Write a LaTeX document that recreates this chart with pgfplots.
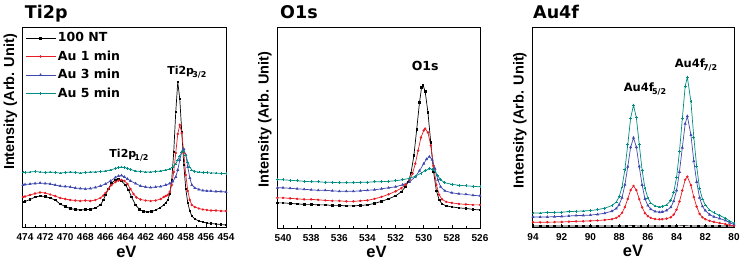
\documentclass[border=0pt]{standalone}
\usepackage{fontspec}
\setmainfont{Liberation Sans}
\newfontfamily\widefont{DejaVu Sans}
\usepackage{pgfplots}
\pgfplotsset{compat=1.18}
\definecolor{cblack}{RGB}{0,0,0}
\definecolor{cred}{RGB}{232,28,36}
\definecolor{cblue}{RGB}{63,72,173}
\definecolor{cteal}{RGB}{0,140,128}
\newcommand{\sub}[1]{\kern-1.8pt\raisebox{-0.55ex}{\fontsize{8}{8}\selectfont #1}}
\newcommand{\titfont}{\widefont\fontsize{17.5}{17.5}\selectfont\bfseries}
\pgfplotsset{
  xps/.style={
    scale only axis, ymin=0, ymax=200, ytick=\empty, x dir=reverse,
    axis line style={line width=0.6pt},
    xtick pos=left, minor x tick num=1,
    major tick length=3pt, minor tick length=2pt,
    every tick/.style={black, line width=0.5pt},
    /pgf/number format/assume math mode=true,
    /pgf/number format/set thousands separator={},
    xticklabel style={font=\fontsize{10}{10}\selectfont\bfseries, inner sep=0pt, yshift=-6pt},
    xlabel={eV},
    xlabel style={font=\fontsize{16.5}{16.5}\selectfont\bfseries, anchor=north, inner sep=0pt},
    ylabel={Intensity (Arb. Unit)},
    ylabel style={font=\fontsize{14.5}{15}\selectfont\bfseries, anchor=south, inner sep=0pt},
    clip=true,
  },
  sblack/.style={color=cblack, line width=0.7pt, mark=square*, mark size=0.8pt},
  sred/.style={color=cred, line width=0.7pt, mark=*, mark size=0.85pt},
  sblue/.style={color=cblue, line width=0.7pt, mark=triangle*, mark size=1.1pt},
  steal/.style={color=cteal, line width=0.7pt, mark=+, mark size=1.4pt},
}
\begin{document}
\begin{tikzpicture}
\useasboundingbox (0pt,0pt) rectangle (742pt,260pt);
% ---------------- Ti2p ----------------
\begin{axis}[xps, name=a1, at={(22.7pt,33pt)}, anchor=south west, width=203.3pt, height=200pt,
  xmin=454, xmax=474.23, xtick={454,456,...,474},
  xlabel style={at={(axis description cs:0.51,0)}, yshift=-18.7pt},
  ylabel style={at={(axis description cs:-0.026,0.625)}},
  legend style={at={(axis description cs:0,1)}, anchor=north west, xshift=1.3pt, yshift=-2.5pt,
    draw=none, fill=none, font=\widefont\fontsize{12.5}{13}\selectfont\bfseries,
    row sep=3.5pt, inner sep=1pt, nodes={inner sep=2pt}},
  legend cell align=left,
  legend image code/.code={\draw[mark repeat=2,mark phase=2] plot coordinates {(0pt,0pt) (15pt,0pt) (30pt,0pt)};},
]
\addplot[sblack] coordinates {
(474.2,25) (474,25.5) (473.5,27.5) (473,30) (472.5,31) (472,30.5) (471.5,29) (471,27)
(470.5,23) (470,20.5) (469.5,18.5) (469,17.5) (468.5,17) (468,17.5) (467.5,17.5) (467,19)
(466.5,22) (466.2,27) (466,32) (465.7,38) (465.4,44) (465,47) (464.7,48) (464.4,46)
(464,42) (463.7,37) (463.4,30) (463,22) (462.6,17.5) (462.2,15.5) (461.8,15) (461.4,15.5)
(461,17) (460.6,19) (460.2,22) (460,24) (459.8,27) (459.6,33) (459.4,47) (459.2,75)
(459,115) (458.8,145) (458.6,128) (458.4,95) (458.2,62) (458,38) (457.8,24) (457.6,16)
(457.4,11) (457.1,8) (456.7,6) (456.3,5) (455.9,4) (455.5,3.5) (455,3) (454.5,2.5) (454,2)};
\addlegendentry{100 NT}
\addplot[sred] coordinates {
(474.2,30) (474,30.5) (473.5,32) (473,33.5) (472.5,34.5) (472,34) (471.5,32.5) (471,31)
(470.5,29) (470,28) (469.5,27) (469,26.5) (468.5,26) (468,26.5) (467.5,26) (467,27)
(466.5,29) (466.2,31.5) (466,34) (465.7,38) (465.4,42) (465,45) (464.7,46.5) (464.4,47)
(464.1,46) (463.8,43) (463.5,38) (463.2,33) (462.9,29.5) (462.5,27.5) (462,26.5) (461.5,26)
(461,26.5) (460.5,28) (460.2,30) (460,31) (459.8,32) (459.6,35) (459.4,42) (459.2,55)
(459,74) (458.8,93) (458.6,102) (458.4,94) (458.2,74) (458,52) (457.8,36) (457.6,27)
(457.4,22) (457.1,20) (456.7,18.5) (456.3,17.5) (455.9,17) (455.5,16.5) (455,16.5) (454.5,16) (454,16)};
\addlegendentry{Au 1 min}
\addplot[sblue] coordinates {
(474.2,42) (474,42.5) (473.5,43) (473,43.5) (472.5,44) (472,43.5) (471.5,43) (471,42)
(470.5,41) (470,40.5) (469.5,40) (469,39) (468.5,38.5) (468,38) (467.5,38.5) (467,39.5)
(466.5,41) (466,43) (465.5,46) (465,49.5) (464.7,51) (464.4,51.5) (464.1,50) (463.8,48)
(463.5,46) (463,43.5) (462.5,41) (462,40) (461.5,39.5) (461,40) (460.5,40.5) (460,42)
(459.6,43.5) (459.3,45.5) (459,50) (458.8,57) (458.6,67) (458.4,75) (458.2,78) (458,72)
(457.8,60) (457.6,49) (457.4,42) (457.1,39) (456.7,37.5) (456.3,36.5) (455.9,36) (455.5,36)
(455,35.5) (454.5,35.5) (454,35)};
\addlegendentry{Au 3 min}
\addplot[steal] coordinates {
(474.2,55) (474,54.5) (473.5,55) (473,55.5) (472.5,55) (472,54.5) (471.5,55) (471,54.5)
(470.5,54) (470,54.5) (469.5,55) (469,54.5) (468.5,54) (468,54.5) (467.5,55) (467,55)
(466.5,55.5) (466,56) (465.5,57) (465,58.5) (464.7,59.5) (464.4,60) (464.1,59.5) (463.8,58.5)
(463.5,57.5) (463,56) (462.5,55.5) (462,55) (461.5,55) (461,55.5) (460.5,56) (460,57)
(459.6,58) (459.3,60) (459,63) (458.8,67) (458.6,71) (458.4,75) (458.2,76) (458,72)
(457.8,65) (457.6,60) (457.4,57) (457.1,55.5) (456.7,55) (456.3,54.5) (455.9,54.5) (455.5,54)
(455,54) (454.5,53.5) (454,53.5)};
\addlegendentry{Au 5 min}
\node[font=\widefont\fontsize{11}{11}\selectfont\bfseries] at (axis cs:457.9,155) {Ti2p\sub{3/2}};
\node[font=\widefont\fontsize{11}{11}\selectfont\bfseries] at (axis cs:463.65,72) {Ti2p\sub{1/2}};
\end{axis}
% ---------------- O1s ----------------
\begin{axis}[xps, name=a2, at={(277pt,32pt)}, anchor=south west, width=203pt, height=201pt,
  xmin=526, xmax=540.43, xtick={526,528,...,540},
  xlabel style={at={(axis description cs:0.49,0)}, yshift=-17.5pt},
  ylabel style={at={(axis description cs:-0.026,0.54)}},
]
\addplot[sblack] coordinates {
(540.4,25) (540,25) (539.5,24.5) (539,24) (538.5,23.5) (538,23.5) (537.5,23) (537,23)
(536.5,22.5) (536,22.5) (535.5,22) (535,22) (534.5,22.5) (534,23) (533.5,24.5) (533,26.5)
(532.5,29) (532,32) (531.6,36) (531.3,41) (531.1,46) (530.9,55) (530.7,72) (530.5,98)
(530.3,125) (530.15,140) (530.05,142) (529.9,136) (529.7,115) (529.5,85) (529.3,56) (529.1,37) (528.9,28)
(528.7,24) (528.4,22) (528,21) (527.5,20) (527,19.5) (526.5,18.5) (526,18)};
\addplot[sred] coordinates {
(540.4,30) (540,30) (539.5,29.5) (539,29) (538.5,28.5) (538,28.5) (537.5,28) (537,27.5)
(536.5,27) (536,27) (535.5,26.5) (535,26.5) (534.5,27) (534,27.5) (533.5,29) (533,31)
(532.5,33.5) (532,36.5) (531.6,39.5) (531.3,43) (531,48) (530.8,54) (530.6,64) (530.4,77)
(530.2,90) (530,97) (529.9,99) (529.7,95) (529.5,82) (529.3,62) (529.1,43) (528.9,33)
(528.7,28.5) (528.4,26) (528,25) (527.5,24) (527,23.5) (526.5,23) (526,23)};
\addplot[sblue] coordinates {
(540.4,40) (540,40) (539.5,39.5) (539,39) (538.5,38.5) (538,38) (537.5,37.5) (537,37.5)
(536.5,37) (536,36.5) (535.5,36.5) (535,36.5) (534.5,37) (534,37.5) (533.5,38) (533,39)
(532.5,40) (532,41) (531.5,43) (531,46) (530.6,51) (530.3,57) (530,64) (529.8,68.5)
(529.6,71) (529.4,68) (529.2,59) (529,48) (528.8,41) (528.5,37) (528,35) (527.5,34)
(527,33.5) (526.5,32.5) (526,32)};
\addplot[steal] coordinates {
(540.4,48) (540,48) (539.5,47.5) (539,47) (538.5,46.5) (538,46) (537.5,46) (537,45.5)
(536.5,45.5) (536,45) (535.5,45) (535,45) (534.5,45.5) (534,45.5) (533.5,46) (533,46)
(532.5,46.5) (532,47) (531.5,48) (531,49.5) (530.6,51.5) (530.2,54.5) (529.9,57) (529.6,59)
(529.4,58.5) (529.2,56) (529,52) (528.8,48) (528.5,45) (528,43.5) (527.5,42.5) (527,42)
(526.5,41.5) (526,41)};
\node[font=\widefont\fontsize{12.5}{12.5}\selectfont\bfseries] at (axis cs:529.9,161) {O1s};
\end{axis}
% ---------------- Au4f ----------------
\begin{axis}[xps, name=a3, at={(532pt,32.5pt)}, anchor=south west, width=202pt, height=200.5pt,
  xmin=80, xmax=94.07, xtick={80,82,...,94},
  xlabel style={at={(axis description cs:0.5,0)}, yshift=-17pt},
  ylabel style={at={(axis description cs:-0.026,0.535)}},
]
\addplot[sblack] coordinates {
(94,1.5) (93.5,1.6) (93,1.5) (92.5,1.4) (92,1.5) (91.5,1.6) (91,1.5) (90.5,1.5) (90,1.4)
(89.5,1.5) (89,1.6) (88.5,1.5) (88,1.5) (87.5,1.6) (87,1.7) (86.5,1.5) (86,1.5) (85.5,1.4)
(85,1.5) (84.5,1.5) (84,1.6) (83.5,1.7) (83,1.6) (82.5,1.5) (82,1.5) (81.5,1.4) (81,1.5)
(80.5,1.5) (80,1.4)};
\addplot[sred] coordinates {
(94,5.2) (93.5,5.2) (93,5.3) (92.5,5.4) (92,5.5) (91.5,5.8) (91,6.1) (90.5,6.3) (90,6.6)
(89.5,7) (89,7.5) (88.5,8.3) (88.2,9.6) (88,11.3) (87.8,14.6) (87.6,20.3) (87.4,28.5)
(87.2,37.3) (87,41.5) (86.8,37.3) (86.6,28.3) (86.4,20) (86.2,14.3) (86,11.3) (85.8,9.6)
(85.5,8.4) (85.2,8.2) (85,8.3) (84.7,8.8) (84.4,10.2) (84.2,12.8) (84,17.7) (83.8,25.9)
(83.6,36.9) (83.4,47.7) (83.25,50.7) (83,42.2) (82.8,30.3) (82.6,20.8) (82.4,13.6)
(82.2,10.2) (82,8.3) (81.7,6.7) (81.4,5.6) (81,4.4) (80.6,3.4) (80.3,2.3) (80,1.7)};
\addplot[sblue] coordinates {
(94,10.4) (93.5,10.4) (93,10.5) (92.5,10.8) (92,11.1) (91.5,11.5) (91,11.9) (90.5,12.1)
(90,12.4) (89.5,13.1) (89,14.3) (88.5,16.3) (88.2,18.9) (88,22.7) (87.8,29.8) (87.6,42.6)
(87.4,60.6) (87.2,80) (87,89.5) (86.8,80.2) (86.6,60.8) (86.4,42.5) (86.2,28.5) (86,22)
(85.8,18.3) (85.5,16) (85.2,15.3) (85,15.6) (84.7,17) (84.4,20.2) (84.2,26.2) (84,37)
(83.8,55.5) (83.6,79.7) (83.4,103.5) (83.25,111) (83,92.2) (82.8,66.2) (82.6,45.5)
(82.4,29.8) (82.2,21.1) (82,16.9) (81.7,12.8) (81.4,10.7) (81,9) (80.6,7.1) (80.3,4.8) (80,3)};
\addplot[steal] coordinates {
(94,14.5) (93.5,14.5) (93,15) (92.5,15) (92,15.3) (91.5,15.8) (91,16.2) (90.5,16.5)
(90,16.9) (89.5,17.8) (89,19.3) (88.5,21.9) (88.2,25.4) (88,30.6) (87.8,40.4) (87.6,57.9)
(87.4,82.6) (87.2,109.2) (87,122) (86.8,109.4) (86.6,82.9) (86.4,57) (86.2,39) (86,29.5)
(85.8,24.5) (85.5,21.5) (85.2,20.5) (85,21) (84.7,22.5) (84.4,27) (84.2,35) (84,50)
(83.8,75.5) (83.6,108.5) (83.4,141) (83.25,150) (83,125.5) (82.8,90) (82.6,61) (82.4,39)
(82.2,28.5) (82,22.5) (81.7,17.5) (81.4,14.7) (81,12) (80.6,9.2) (80.3,6.5) (80,4.5)};
\node[font=\widefont\fontsize{11.5}{11.5}\selectfont\bfseries] at (axis cs:86.2,138) {Au4f\sub{5/2}};
\node[font=\widefont\fontsize{11.5}{11.5}\selectfont\bfseries] at (axis cs:82.65,162) {Au4f\sub{7/2}};
\end{axis}
\node[anchor=base west, inner sep=0pt, font=\titfont] at ([xshift=2pt,yshift=8.5pt]a1.north west) {Ti2p};
\node[anchor=base west, inner sep=0pt, font=\titfont] at ([xshift=3pt,yshift=8.5pt]a2.north west) {O1s};
\node[anchor=base west, inner sep=0pt, font=\titfont] at ([xshift=1pt,yshift=8.5pt]a3.north west) {Au4f};
\end{tikzpicture}
\end{document}
